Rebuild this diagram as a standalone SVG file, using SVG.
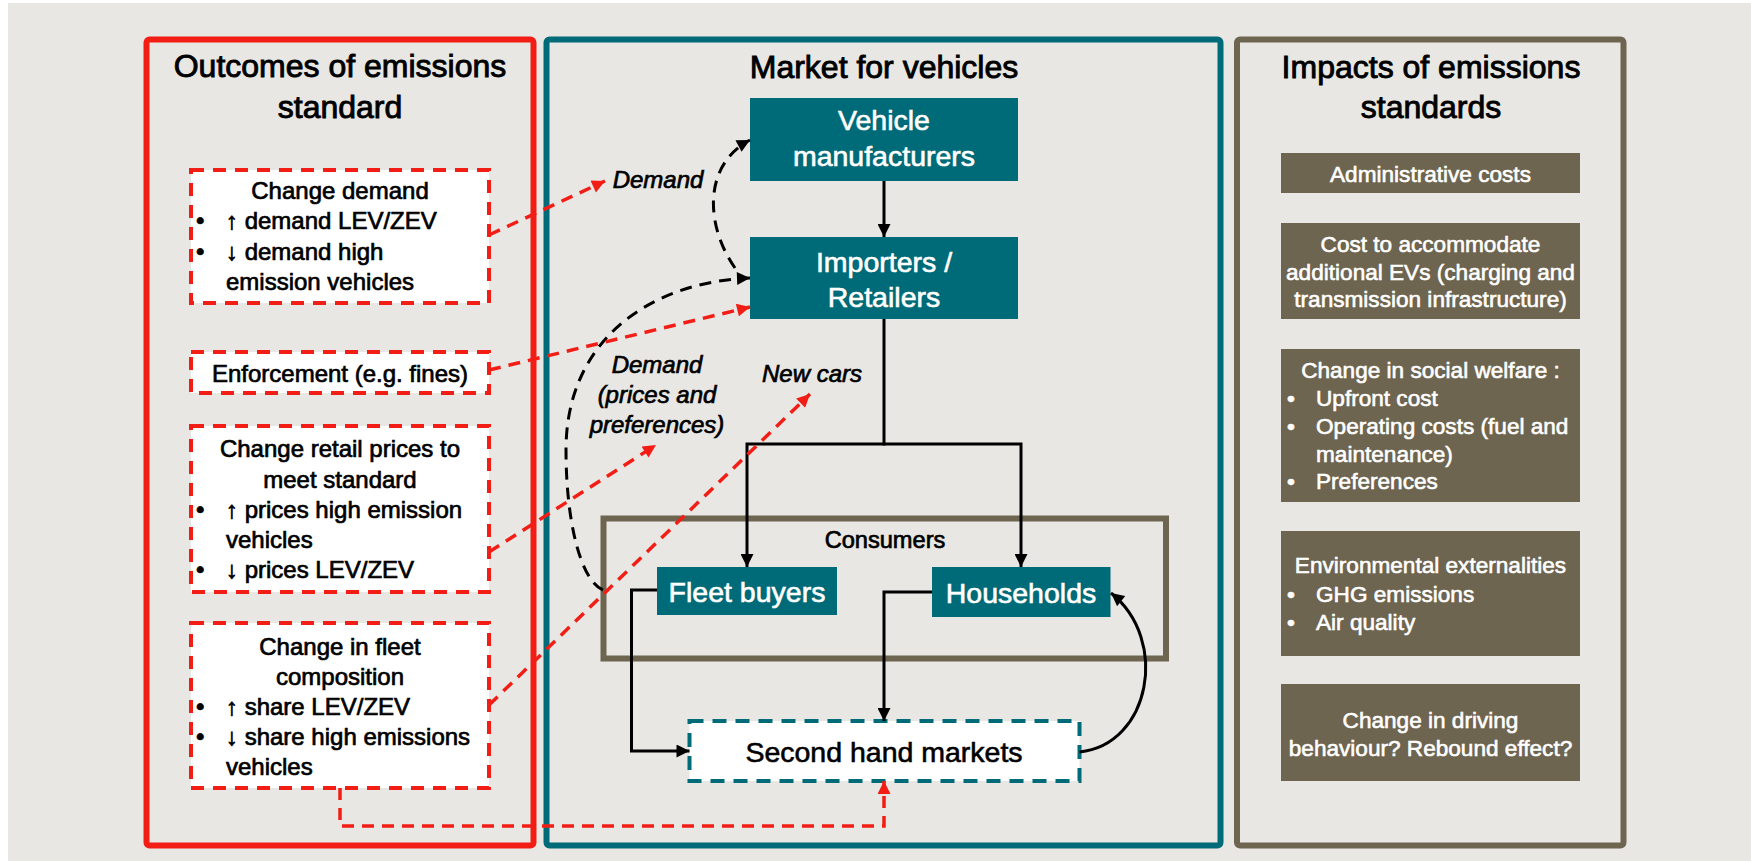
<svg xmlns="http://www.w3.org/2000/svg" width="1751" height="861" viewBox="0 0 1751 861">
  <style>
    text { font-family: "Liberation Sans", Arial, sans-serif; fill: #000; stroke: #000; stroke-width: 0.7px; }
    .title { font-size: 32px; text-anchor: middle; stroke-width: 0.9px; }
    .body { font-size: 24px; }
    .mid { text-anchor: middle; }
    .node { font-size: 28.5px; text-anchor: middle; fill: #fff; stroke: #fff; stroke-width: 0.6px; }
    .imp { font-size: 22.6px; fill: #fff; stroke: #fff; stroke-width: 0.6px; }
    .lbl { font-size: 24px; font-style: italic; text-anchor: middle; }
    .teal { fill: #006B78; }
    .olive { fill: #6E6550; }
    .outbox { fill: #fff; stroke: #F21E16; stroke-width: 4; stroke-dasharray: 13 9; }
    .conn { fill: none; stroke: #000; stroke-width: 3; }
    .dash { fill: none; stroke: #000; stroke-width: 3; stroke-dasharray: 12 8; }
    .rdash { fill: none; stroke: #F21E16; stroke-width: 3.5; stroke-dasharray: 12 8; }
  </style>
  <defs>
    <marker id="ah" viewBox="0 0 10 10" refX="10" refY="5" markerWidth="15" markerHeight="13" markerUnits="userSpaceOnUse" orient="auto">
      <path d="M0,0 L10,5 L0,10 z" fill="#000"/>
    </marker>
    <marker id="ah-red" viewBox="0 0 10 10" refX="10" refY="5" markerWidth="15" markerHeight="13" markerUnits="userSpaceOnUse" orient="auto">
      <path d="M0,0 L10,5 L0,10 z" fill="#F21E16"/>
    </marker>
  </defs>

  <!-- page -->
  <rect x="0" y="0" width="1751" height="861" fill="#fff"/>
  <rect x="8" y="3" width="1743" height="858" fill="#E8E7E3"/>

  <!-- left panel: outcomes -->
  <g id="panel-outcomes">
    <rect x="146.5" y="39.5" width="387" height="806" rx="3" fill="none" stroke="#F21E16" stroke-width="6"/>
    <text class="title" x="340" y="77">Outcomes of emissions</text>
    <text class="title" x="340" y="118">standard</text>
  </g>

  <!-- centre panel: market -->
  <g id="panel-market">
    <rect x="546.5" y="39.5" width="674" height="806" rx="3" fill="none" stroke="#006B78" stroke-width="6"/>
    <text class="title" x="884" y="78">Market for vehicles</text>
  </g>

  <!-- right panel: impacts -->
  <g id="panel-impacts">
    <rect x="1237" y="39.5" width="386.5" height="806" rx="3" fill="none" stroke="#6E6550" stroke-width="6"/>
    <text class="title" x="1431" y="78">Impacts of emissions</text>
    <text class="title" x="1431" y="118">standards</text>
  </g>

  <!-- outcome nodes -->
  <g id="change-demand">
    <rect class="outbox" x="191" y="170" width="298" height="133"/>
    <text class="body mid" x="340" y="199">Change demand</text>
    <text class="body" x="196" y="229">•</text><text class="body" x="226" y="229">↑ demand LEV/ZEV</text>
    <text class="body" x="196" y="260">•</text><text class="body" x="226" y="260">↓ demand high</text>
    <text class="body" x="226" y="290">emission vehicles</text>
  </g>
  <g id="enforcement">
    <rect class="outbox" x="191" y="352" width="298" height="41"/>
    <text class="body mid" x="340" y="382">Enforcement (e.g. fines)</text>
  </g>
  <g id="change-prices">
    <rect class="outbox" x="191" y="426" width="298" height="166"/>
    <text class="body mid" x="340" y="457">Change retail prices to</text>
    <text class="body mid" x="340" y="488">meet standard</text>
    <text class="body" x="196" y="518">•</text><text class="body" x="226" y="518">↑ prices high emission</text>
    <text class="body" x="226" y="548">vehicles</text>
    <text class="body" x="196" y="578">•</text><text class="body" x="226" y="578">↓ prices LEV/ZEV</text>
  </g>
  <g id="fleet-composition">
    <rect class="outbox" x="191" y="623" width="298" height="165"/>
    <text class="body mid" x="340" y="655">Change in fleet</text>
    <text class="body mid" x="340" y="685">composition</text>
    <text class="body" x="196" y="715">•</text><text class="body" x="226" y="715">↑ share LEV/ZEV</text>
    <text class="body" x="196" y="745">•</text><text class="body" x="226" y="745">↓ share high emissions</text>
    <text class="body" x="226" y="775">vehicles</text>
  </g>

  <!-- market nodes -->
  <g id="manufacturers">
    <rect class="teal" x="750" y="98" width="268" height="83"/>
    <text class="node" x="884" y="130">Vehicle</text>
    <text class="node" x="884" y="166">manufacturers</text>
  </g>
  <g id="importers">
    <rect class="teal" x="750" y="237" width="268" height="82"/>
    <text class="node" x="884" y="272">Importers /</text>
    <text class="node" x="884" y="307">Retailers</text>
  </g>
  <g id="consumers">
    <rect x="603.5" y="518.5" width="562.5" height="140" fill="none" stroke="#6E6550" stroke-width="6"/>
    <text class="mid" x="885" y="548" style="font-size:23.6px">Consumers</text>
  </g>
  <g id="fleet-buyers">
    <rect class="teal" x="657" y="567" width="180" height="48"/>
    <text class="node" x="747" y="602">Fleet buyers</text>
  </g>
  <g id="households">
    <rect class="teal" x="932" y="567" width="178.5" height="50"/>
    <text class="node" x="1021" y="603">Households</text>
  </g>
  <g id="second-hand">
    <rect x="689.5" y="721" width="390" height="60" fill="#fff" stroke="#006B78" stroke-width="4" stroke-dasharray="14 9"/>
    <text class="node" x="884" y="762" style="fill:#000;stroke:#000">Second hand markets</text>
  </g>

  <!-- impact nodes -->
  <g id="admin-costs">
    <rect class="olive" x="1281" y="153" width="299" height="40"/>
    <text class="imp mid" x="1430.5" y="181.5">Administrative costs</text>
  </g>
  <g id="ev-costs">
    <rect class="olive" x="1281" y="223" width="299" height="96"/>
    <text class="imp mid" x="1430.5" y="251.5">Cost to accommodate</text>
    <text class="imp mid" x="1430.5" y="279.5">additional EVs (charging and</text>
    <text class="imp mid" x="1430.5" y="307">transmission infrastructure)</text>
  </g>
  <g id="social-welfare">
    <rect class="olive" x="1281" y="349" width="299" height="153"/>
    <text class="imp mid" x="1430.5" y="377.5">Change in social welfare :</text>
    <text class="imp" x="1287" y="406">•</text><text class="imp" x="1316" y="406">Upfront cost</text>
    <text class="imp" x="1287" y="434">•</text><text class="imp" x="1316" y="434">Operating costs (fuel and</text>
    <text class="imp" x="1316" y="461.5">maintenance)</text>
    <text class="imp" x="1287" y="489">•</text><text class="imp" x="1316" y="489">Preferences</text>
  </g>
  <g id="environment">
    <rect class="olive" x="1281" y="531" width="299" height="125"/>
    <text class="imp mid" x="1430.5" y="573">Environmental externalities</text>
    <text class="imp" x="1287" y="601.5">•</text><text class="imp" x="1316" y="601.5">GHG emissions</text>
    <text class="imp" x="1287" y="630">•</text><text class="imp" x="1316" y="630">Air quality</text>
  </g>
  <g id="driving">
    <rect class="olive" x="1281" y="684" width="299" height="97"/>
    <text class="imp mid" x="1430.5" y="728">Change in driving</text>
    <text class="imp mid" x="1430.5" y="756">behaviour? Rebound effect?</text>
  </g>

  <!-- connectors -->
  <g id="connectors">
    <path class="conn" d="M884,181 V237" marker-end="url(#ah)"/>
    <path class="conn" d="M884,319 V444"/>
    <path class="conn" d="M885.5,444 H747 V567" marker-end="url(#ah)"/>
    <path class="conn" d="M882.5,444 H1021 V567" marker-end="url(#ah)"/>
    <path class="conn" d="M657,590 H631.5 V751 H689.5" marker-end="url(#ah)"/>
    <path class="conn" d="M932,592 H884 V721" marker-end="url(#ah)"/>
    <path class="conn" d="M1079.5,752 C1150,745 1170,640 1111,593" marker-end="url(#ah)"/>

    <path class="dash" d="M735,268 C705,225 703,165 750,140" marker-end="url(#ah)"/>
    <path class="dash" d="M603,590 C580,580 566,520 566,450 C566,340 650,282 750,278" marker-end="url(#ah)"/>

    <path class="rdash" d="M489,235 L605,181" marker-end="url(#ah-red)"/>
    <path class="rdash" d="M489,370 L750,307" marker-end="url(#ah-red)"/>
    <path class="rdash" d="M489,552 L656,445" marker-end="url(#ah-red)"/>
    <path class="rdash" d="M489,705 L810,394" marker-end="url(#ah-red)"/>
    <path class="rdash" d="M340,788 V826 H884 V781" marker-end="url(#ah-red)"/>

    <text class="lbl" x="658" y="188">Demand</text>
    <text class="lbl" x="657" y="373">Demand</text>
    <text class="lbl" x="657" y="403">(prices and</text>
    <text class="lbl" x="657" y="433">preferences)</text>
    <text class="lbl" x="812" y="382">New cars</text>
  </g>
</svg>
